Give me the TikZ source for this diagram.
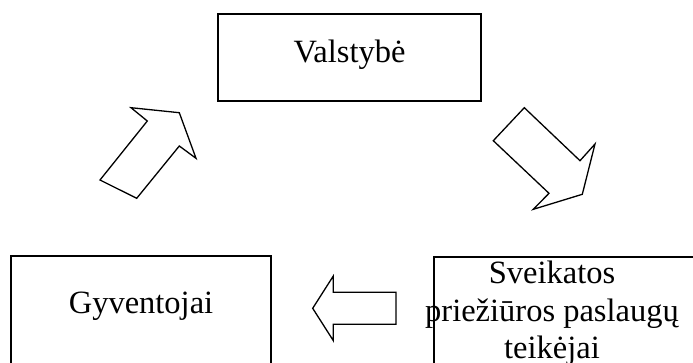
\documentclass[tikz,border=0pt]{standalone}
\usepackage{fontspec}
\setmainfont{Liberation Serif}
\begin{document}
\begin{tikzpicture}[x=1pt,y=-1pt,
  box/.style={draw=black,line width=1.5pt,rectangle,inner sep=0pt},
  label/.style={anchor=base,inner sep=0pt,font=\fontsize{32.5}{37}\selectfont},
  blockarrow/.style={draw=black,line width=1.3pt,fill=white,line join=miter}]
  \clip (0,0) rectangle (693,362);

  % boxes
  \node[box,minimum width=263pt,minimum height=87pt] (state) at (349.5,57.5) {};
  \node[box,minimum width=260pt,minimum height=130pt] (people) at (141,321) {};
  \node[box,minimum width=300pt,minimum height=130pt,anchor=north west] (providers) at (433,256) {};

  % labels
  \node[label] (stateText) at (349.5,62.5) {Valstybė};
  \node[label] (peopleText) at (141,313.5) {Gyventojai};
  \node[label] (provText1) at (552,283.5) {Sveikatos};
  \node[label] (provText2) at (552,321) {priežiūros paslaugų};
  \node[label] (provText3) at (552,358) {teikėjai};

  % block arrow: people -> state
  \draw[blockarrow] (100,180) -- (147.3,121) -- (131,107.7) -- (179.3,112.7)
    -- (196,158.3) -- (179.3,146) -- (136.7,198.3) -- cycle;

  % block arrow: state -> providers
  \draw[blockarrow] (524.3,107.7) -- (580,160.7) -- (595,144) -- (582.3,194.3)
    -- (533.3,209.3) -- (549,193.3) -- (493.3,140.7) -- cycle;

  % block arrow: providers -> people
  \draw[blockarrow] (312.7,308.3) -- (333.3,276) -- (333.3,292.3) -- (396,292.3)
    -- (396,324.3) -- (333.3,324.3) -- (333.3,340.6) -- cycle;
\end{tikzpicture}
\end{document}
